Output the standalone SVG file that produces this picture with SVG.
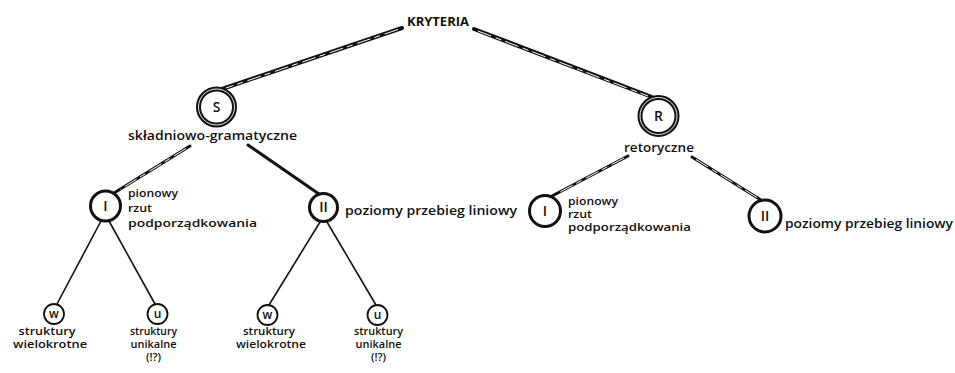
<svg xmlns="http://www.w3.org/2000/svg" width="955" height="373" viewBox="0 0 955 373">
  <style>
    text { font-family: "Open Sans", "DejaVu Sans", sans-serif; font-weight: 600; fill: #111; }
    .lbl { font-size: 12.5px; }
    .sm { font-size: 11.5px; }
    .leaf { font-size: 11px; text-anchor: middle; }
    .mid { text-anchor: middle; }
    .sym { font-size: 14px; text-anchor: middle; }
    .leafsym { font-size: 12px; text-anchor: middle; }
    .dbl { stroke: #111; stroke-width: 4; fill: none; stroke-linecap: round; }
    .dblin { stroke: #fff; stroke-width: 1; fill: none; stroke-dasharray: 14 5 6 4; }
    .thin { stroke: #111; stroke-width: 1.6; fill: none; }
    .ring-main { fill: #fff; stroke: #111; stroke-width: 5; }
    .ring-main-in { fill: none; stroke: #fff; stroke-width: 0.9; }
    .ring-mid { fill: #fff; stroke: #111; stroke-width: 3; }
    .ring-leaf { fill: #fff; stroke: #111; stroke-width: 1.8; }
  </style>

  <!-- connectors -->
  <g id="connectors">
    <!-- root to S and R (heavy double strokes) -->
    <line class="dbl" x1="402" y1="28" x2="222" y2="89"/>
    <line class="dblin" x1="398" y1="29.5" x2="226" y2="88"/>
    <line class="dbl" x1="474" y1="29" x2="652" y2="97"/>
    <line class="dblin" x1="478" y1="31" x2="648" y2="96"/>
    <!-- S to I / II -->
    <line class="dbl" x1="190" y1="146" x2="114" y2="193" style="stroke-width:3"/>
    <line class="dblin" x1="186" y1="148.5" x2="120" y2="189.5"/>
    <line class="dbl" x1="248" y1="145" x2="319" y2="194" style="stroke-width:3"/>
    <!-- R to I / II -->
    <line class="dbl" x1="628" y1="156" x2="552" y2="196" style="stroke-width:3"/>
    <line class="dblin" x1="624" y1="158" x2="558" y2="193"/>
    <line class="dbl" x1="692" y1="157" x2="761" y2="200" style="stroke-width:3"/>
    <line class="dblin" x1="696" y1="159.5" x2="757" y2="197.5"/>
    <!-- I (left) to leaves -->
    <line class="thin" x1="101" y1="221" x2="57" y2="304"/>
    <line class="thin" x1="109" y1="221" x2="155" y2="304"/>
    <!-- II (left) to leaves -->
    <line class="thin" x1="320" y1="222" x2="269" y2="305"/>
    <line class="thin" x1="327" y1="222" x2="376" y2="305"/>
  </g>

  <!-- root label -->
  <g id="n-kryteria">
    <text x="438" y="26" class="mid" style="font-size:11.5px;font-weight:700" textLength="62" lengthAdjust="spacingAndGlyphs">KRYTERIA</text>
  </g>

  <!-- S node -->
  <g id="n-s">
    <circle class="ring-main" cx="216.5" cy="107" r="18"/>
    <circle class="ring-main-in" cx="216.5" cy="107" r="18"/>
    <text x="216.5" y="112" class="sym">S</text>
    <text x="212.5" y="140" class="lbl mid" textLength="169" lengthAdjust="spacingAndGlyphs">składniowo-gramatyczne</text>
  </g>

  <!-- R node -->
  <g id="n-r">
    <circle class="ring-main" cx="658.5" cy="116" r="18.5"/>
    <circle class="ring-main-in" cx="658.5" cy="116" r="18.5"/>
    <text x="658.5" y="121" class="sym">R</text>
    <text x="659" y="152" class="lbl mid" textLength="70" lengthAdjust="spacingAndGlyphs">retoryczne</text>
  </g>

  <!-- S / I -->
  <g id="n-s-i">
    <circle class="ring-mid" cx="105.5" cy="206" r="15"/>
    <text x="105.5" y="211" class="sym">I</text>
    <text x="128" y="197" class="sm" textLength="50" lengthAdjust="spacingAndGlyphs">pionowy</text>
    <text x="128" y="212" class="sm" textLength="24" lengthAdjust="spacingAndGlyphs">rzut</text>
    <text x="128" y="227" class="sm" textLength="129" lengthAdjust="spacingAndGlyphs">podporządkowania</text>
  </g>

  <!-- S / II -->
  <g id="n-s-ii">
    <circle class="ring-mid" cx="323.5" cy="207.5" r="14"/>
    <text x="323.5" y="212" class="sym">II</text>
    <text x="345" y="215" class="lbl" textLength="172" lengthAdjust="spacingAndGlyphs">poziomy przebieg liniowy</text>
  </g>

  <!-- R / I -->
  <g id="n-r-i">
    <circle class="ring-mid" cx="545" cy="211" r="15.5"/>
    <text x="545" y="216" class="sym">I</text>
    <text x="568" y="205" class="sm" textLength="50" lengthAdjust="spacingAndGlyphs">pionowy</text>
    <text x="568" y="218" class="sm" textLength="24" lengthAdjust="spacingAndGlyphs">rzut</text>
    <text x="568" y="231" class="sm" textLength="123" lengthAdjust="spacingAndGlyphs">podporządkowania</text>
  </g>

  <!-- R / II -->
  <g id="n-r-ii">
    <circle class="ring-mid" cx="765" cy="216" r="16"/>
    <text x="765" y="221" class="sym">II</text>
    <text x="785" y="228" class="lbl" textLength="168" lengthAdjust="spacingAndGlyphs">poziomy przebieg liniowy</text>
  </g>

  <!-- leaves under S / I -->
  <g id="n-s-i-w">
    <circle class="ring-leaf" cx="54" cy="314" r="10"/>
    <text x="54" y="318" class="leafsym">w</text>
    <text x="47" y="335" class="leaf" textLength="57" lengthAdjust="spacingAndGlyphs">struktury</text>
    <text x="50" y="348" class="leaf" textLength="74" lengthAdjust="spacingAndGlyphs">wielokrotne</text>
  </g>
  <g id="n-s-i-u">
    <circle class="ring-leaf" cx="157.5" cy="314" r="10"/>
    <text x="157.5" y="318" class="leafsym">u</text>
    <text x="153.5" y="335" class="leaf" textLength="47" lengthAdjust="spacingAndGlyphs">struktury</text>
    <text x="153.5" y="348" class="leaf" textLength="46" lengthAdjust="spacingAndGlyphs">unikalne</text>
    <text x="153.5" y="361" class="leaf">(!?)</text>
  </g>

  <!-- leaves under S / II -->
  <g id="n-s-ii-w">
    <circle class="ring-leaf" cx="267.5" cy="315" r="10"/>
    <text x="267.5" y="319" class="leafsym">w</text>
    <text x="269" y="335" class="leaf" textLength="52" lengthAdjust="spacingAndGlyphs">struktury</text>
    <text x="271" y="348" class="leaf" textLength="70" lengthAdjust="spacingAndGlyphs">wielokrotne</text>
  </g>
  <g id="n-s-ii-u">
    <circle class="ring-leaf" cx="377.5" cy="315" r="10"/>
    <text x="377.5" y="319" class="leafsym">u</text>
    <text x="378.5" y="335" class="leaf" textLength="49" lengthAdjust="spacingAndGlyphs">struktury</text>
    <text x="378.5" y="348" class="leaf" textLength="46" lengthAdjust="spacingAndGlyphs">unikalne</text>
    <text x="378.5" y="361" class="leaf">(!?)</text>
  </g>
</svg>
